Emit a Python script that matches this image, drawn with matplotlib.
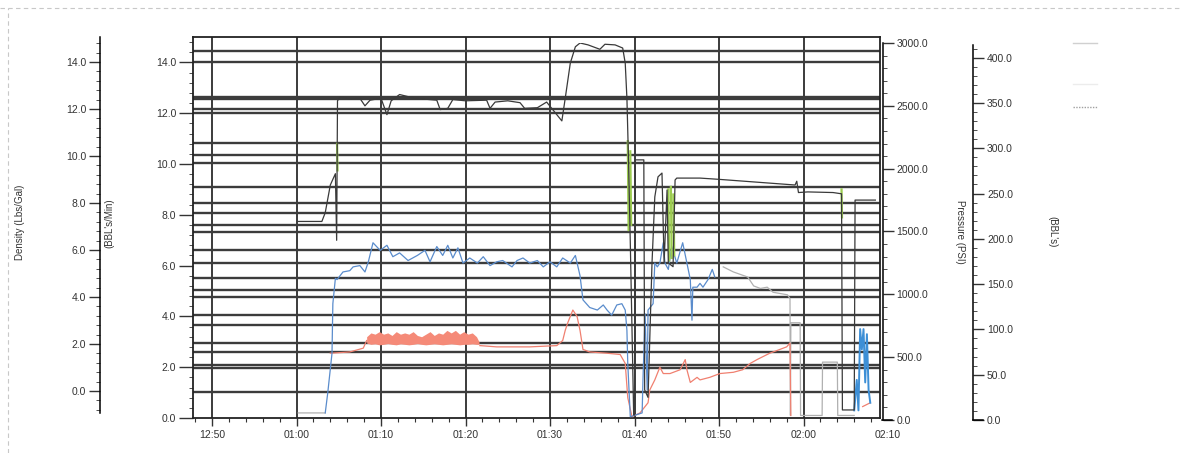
import numpy as np
import matplotlib.pyplot as plt
from matplotlib.lines import Line2D
from matplotlib.ticker import MultipleLocator, FormatStrFormatter
import matplotlib.transforms as mtransforms

plt.rcParams['font.family'] = ['Liberation Sans', 'DejaVu Sans']
plt.rcParams['font.size'] = 7.5
plt.rcParams['text.color'] = '#333333'
plt.rcParams['xtick.color'] = '#333333'
plt.rcParams['ytick.color'] = '#333333'

# time = minutes after 12:00 (12:50 -> 50, 01:00 -> 60 ... 02:10 -> 130)
tick_pos = [50, 60, 70, 80, 90, 100, 110, 120]
tick_labels = ['12:50', '01:00', '01:10', '01:20', '01:30', '01:40', '01:50', '02:00']
last_tick, last_label = 130, '02:10'

# dark horizontal streaks from the scan (in BBL's/Min units)
streak_y = [14.45, 14.02, 12.64, 12.56, 12.17, 12.0, 10.83, 10.35, 10.04, 9.09,
            8.46, 8.07, 7.60, 7.32, 6.61, 6.10, 5.51, 5.04, 4.76, 4.06,
            3.66, 2.95, 2.60, 2.09, 1.97, 1.02]

# treating pressure (PSI)
press_t = [60.2, 63.0, 63.4, 64.0, 64.6, 64.75, 64.85, 65.15, 66.5, 67.5, 68.1, 68.7,
           70.0, 70.7, 71.2, 72.2, 74.0, 76.6, 77.0, 77.9, 78.5, 80.0, 82.5, 82.9,
           83.5, 85.0, 86.45, 87.0, 88.5, 89.6, 91.4, 91.8, 92.4, 93.0, 93.55, 94.5,
           95.9, 96.5, 97.7, 98.6, 98.9, 99.1, 99.3, 99.5, 99.9, 100.0, 100.1, 101.1,
           101.2, 101.6, 102.07, 102.4, 102.78, 103.25, 103.5, 103.85, 104.0, 104.56,
           104.8, 105.0, 107.75, 110.0, 113.0, 116.0, 119.0, 119.2, 119.4, 120.5,
           123.5, 124.5, 124.6, 126.0, 126.1, 128.5]
press_v = [1580, 1580, 1650, 1870, 1960, 1430, 2540, 2570, 2555, 2560, 2500, 2545,
           2560, 2430, 2540, 2590, 2560, 2545, 2470, 2480, 2550, 2540, 2545, 2480,
           2530, 2540, 2525, 2480, 2485, 2530, 2380, 2560, 2840, 2970, 3000, 2985,
           2950, 2990, 2985, 2960, 2840, 2560, 2040, 1410, 40, 40, 2070, 2070,
           240, 180, 1250, 1775, 1935, 1965, 1250, 1830, 1250, 1220,
           1910, 1925, 1925, 1915, 1900, 1885, 1870, 1900, 1810, 1815,
           1810, 1800, 80, 80, 1750, 1750]

# rate (BBL's/Min)
rate_t = [63.4, 63.7, 64.2, 64.3, 64.6, 64.8, 65.5, 66.3, 66.7, 67.5, 68.1, 68.5,
          69.05, 69.9, 70.7, 71.4, 72.2, 73.2, 74.3, 75.2, 75.8, 76.6, 77.3, 77.9,
          78.5, 79.1, 79.7, 80.5, 81.4, 82.1, 82.9, 83.7, 84.4, 85.5, 86.1, 86.8,
          87.6, 88.5, 89.2, 90.0, 90.8, 91.5, 92.4, 93.0, 93.55, 93.9, 94.7, 95.6,
          96.3, 96.75, 97.3, 97.9, 98.5, 98.9, 99.1, 99.2, 99.5, 100.9, 101.0, 101.25,
          101.5, 101.6, 102.2, 102.4, 102.7, 103.0, 103.4, 103.6, 104.0, 104.4, 105.0,
          105.7, 106.2, 106.6, 106.8, 106.9, 107.4, 107.75, 108.1, 108.7, 109.2, 109.5]
rate_v = [0.2, 1.0, 2.55, 4.5, 5.5, 5.45, 5.75, 5.8, 5.95, 6.0, 5.75, 6.15,
          6.9, 6.6, 6.8, 6.35, 6.5, 6.2, 6.4, 6.6, 6.15, 6.75, 6.4, 6.8,
          6.3, 6.7, 6.1, 6.3, 6.1, 6.35, 6.0, 6.15, 6.2, 5.95, 6.2, 6.3,
          6.1, 6.2, 5.95, 6.15, 5.95, 6.3, 6.1, 6.4, 5.6, 4.65, 4.35, 4.25,
          4.45, 4.25, 4.05, 4.45, 4.5, 4.25, 3.45, 2.15, 0.05, 0.2, 1.5, 4.1,
          1.1, 4.25, 4.5, 6.1, 5.95, 6.1, 6.9, 6.1, 5.85, 6.75, 6.1,
          6.9, 6.1, 5.45, 3.85, 5.15, 5.15, 5.3, 5.15, 5.45, 5.85, 5.55]
rate2_t = [126.0, 126.3, 126.5, 126.7, 126.9, 127.1, 127.3, 127.5, 127.7, 127.9]
rate2_v = [0.3, 1.5, 0.3, 3.5, 2.7, 3.5, 1.4, 3.3, 1.1, 0.6]

# second rate / return (grey)
grey_t = [60.2, 63.4, np.nan, 110.5, 111.7, 113.4, 114.1, 114.9, 115.7, 116.4, 118.1,
          118.4, 118.45, 118.5, 119.6, 119.65, 122.2, 122.25, 124.0, 124.05, 126.0]
grey_v = [0.2, 0.2, np.nan, 5.95, 5.75, 5.55, 5.2, 5.1, 5.15, 4.95, 4.85,
          4.7, 0.1, 3.75, 3.75, 0.1, 0.1, 2.2, 2.2, 0.1, 0.1]

# density trace (red)
red_t = [64.0, 66.3, 67.9, 68.3, np.nan, 81.7, 83.7, 87.6, 90.8, 91.5, 91.8, 92.1,
         92.4, 92.7, 93.2, 93.55, 93.9, 94.7, 96.75, 98.3, 98.9, 99.2, 99.7, 100.65,
         101.6, 101.8, 102.4, 103.0, 103.4, 104.2, 105.4, 106.0, 106.2, 106.6, 107.4,
         107.75, 108.9, 110.1, 111.7, 112.8, 113.7, 114.5, 116.0, 117.2, 118.0, 118.4,
         118.5, np.nan, 127.0, 127.9]
red_v = [2.55, 2.6, 2.75, 3.05, np.nan, 2.85, 2.8, 2.8, 2.85, 3.05, 3.45, 3.75,
         4.0, 4.25, 4.0, 3.45, 2.7, 2.6, 2.55, 2.5, 2.15, 0.8, 0.05, 0.2,
         0.6, 1.1, 1.5, 2.0, 1.75, 1.75, 1.9, 2.3, 1.9, 1.4, 1.6,
         1.5, 1.6, 1.75, 1.8, 1.9, 2.15, 2.3, 2.55, 2.7, 2.8, 2.95,
         0.1, np.nan, 0.45, 0.6]
# dense noisy stretch of the red trace: lower / upper envelope
band_t = [68.3, 68.8, 69.3, 69.8, 70.3, 70.8, 71.3, 71.8, 72.3, 72.8, 73.3, 73.8,
          74.3, 74.8, 75.3, 75.8, 76.3, 76.8, 77.3, 77.8, 78.3, 78.8, 79.3, 79.8,
          80.3, 80.8, 81.3, 81.6]
band_lo = [2.95, 2.9, 2.92, 2.88, 2.9, 2.93, 2.9, 2.88, 2.92, 2.9, 2.88, 2.9,
           2.93, 2.9, 2.88, 2.9, 2.92, 2.9, 2.88, 2.9, 2.92, 2.9, 2.88, 2.9,
           2.9, 2.92, 2.9, 2.9]
band_hi = [3.2, 3.35, 3.3, 3.4, 3.3, 3.35, 3.25, 3.4, 3.3, 3.35, 3.3, 3.4,
           3.25, 3.2, 3.3, 3.4, 3.25, 3.35, 3.3, 3.45, 3.35, 3.45, 3.3, 3.4,
           3.3, 3.35, 3.2, 3.0]

# green spikes
green_t = [64.8, 64.85, np.nan, 99.2, 99.3, np.nan, 99.5, 99.6, np.nan,
           104.0, 104.1, np.nan, 104.3, 104.4, np.nan, 104.6, 104.7, np.nan, 124.5, 124.55]
green_v = [10.8, 9.75, np.nan, 10.9, 7.4, np.nan, 10.5, 7.6, np.nan,
           9.0, 6.2, np.nan, 9.1, 6.3, np.nan, 8.8, 6.4, np.nan, 9.0, 7.9]

W, H = 1180, 453
fig = plt.figure(figsize=(W / 100, H / 100), dpi=100)

def box(x0, y0, x1, y1):
    # pixel box (top-left origin) -> figure fraction rect
    return [x0 / W, 1 - y1 / H, (x1 - x0) / W, (y1 - y0) / H]

xlim = (47.75, 129.05)

ax = fig.add_axes(box(193, 37, 880, 418))
ax.set_xlim(*xlim)
ax.set_ylim(0, 15)
for s in ax.spines.values():
    s.set_color('#222222')
    s.set_linewidth(1.3)
ax.set_xticks(tick_pos)
ax.set_xticklabels(tick_labels)
ax.xaxis.set_minor_locator(MultipleLocator(2))
ax.yaxis.set_major_locator(MultipleLocator(2))
ax.yaxis.set_minor_locator(MultipleLocator(0.4))
ax.yaxis.set_major_formatter(FormatStrFormatter('%.1f'))
ax.tick_params(axis='x', which='major', length=6, width=1, pad=3)
ax.tick_params(axis='x', which='minor', length=3, width=0.8)
ax.tick_params(axis='y', which='major', length=10, width=1, pad=2)
ax.tick_params(axis='y', which='minor', length=3, width=0.6)
ax.grid(axis='x', which='major', color='#1a1a1a', lw=1.2)
ax.set_axisbelow(True)
# last label sits just past the frame
trans = mtransforms.blended_transform_factory(ax.transData, ax.transAxes)
ax.annotate(last_label, xy=(last_tick, 0), xycoords=trans, xytext=(0, -9),
            textcoords='offset points', ha='center', va='top', annotation_clip=False)

for yv in streak_y:
    ax.axhline(yv, color='#3c3c3c', lw=1.7, zorder=1)

ax.plot(grey_t, grey_v, color='#b0b0b0', lw=0.9, zorder=3)
ax.fill_between(band_t, band_lo, band_hi, color='#f58a78', lw=0, zorder=3)
ax.plot(red_t, red_v, color='#f08070', lw=0.9, zorder=3)
ax.plot(rate_t, rate_v, color='#5a8ccc', lw=0.9, zorder=3)
ax.plot(rate2_t, rate2_v, color='#3d8fd6', lw=1.4, zorder=3)
ax.plot(green_t, green_v, color='#9ccc50', lw=1.6, zorder=3)

# pressure axis (right)
axp = fig.add_axes(box(193, 43, 880, 420))
axp.patch.set_visible(False)
axp.set_xlim(*xlim)
axp.set_ylim(0, 3000)
for k in ['left', 'top', 'bottom']:
    axp.spines[k].set_visible(False)
axp.spines['right'].set_position(('outward', 2))
axp.spines['right'].set_linewidth(1.1)
axp.xaxis.set_visible(False)
axp.yaxis.tick_right()
axp.yaxis.set_major_locator(MultipleLocator(500))
axp.yaxis.set_minor_locator(MultipleLocator(100))
axp.yaxis.set_major_formatter(FormatStrFormatter('%.1f'))
axp.tick_params(axis='y', which='major', length=8, width=1, pad=2)
axp.tick_params(axis='y', which='minor', length=3, width=0.6)
axp.plot(press_t, press_v, color='#3a3a3a', lw=0.9, zorder=4)

# volume axis (far right)
axb = fig.add_axes(box(193, 45, 880, 420))
axb.patch.set_visible(False)
axb.set_xlim(*xlim)
axb.set_ylim(0, 414)
for k in ['left', 'top', 'bottom']:
    axb.spines[k].set_visible(False)
axb.spines['right'].set_position(('outward', 67))
axb.spines['right'].set_linewidth(1.1)
axb.xaxis.set_visible(False)
axb.yaxis.tick_right()
axb.yaxis.set_major_locator(MultipleLocator(50))
axb.yaxis.set_minor_locator(MultipleLocator(10))
axb.yaxis.set_major_formatter(FormatStrFormatter('%.1f'))
axb.tick_params(axis='y', which='major', length=8, width=1, pad=2)
axb.tick_params(axis='y', which='minor', length=3, width=0.6)

# density axis (far left)
axd = fig.add_axes(box(100, 37, 100.1, 413))
axd.patch.set_visible(False)
axd.set_ylim(-0.94, 15.06)
for k in ['right', 'top', 'bottom']:
    axd.spines[k].set_visible(False)
axd.spines['left'].set_linewidth(1.1)
axd.set_xticks([])
axd.yaxis.set_major_locator(MultipleLocator(2))
axd.yaxis.set_minor_locator(MultipleLocator(0.4))
axd.yaxis.set_major_formatter(FormatStrFormatter('%.1f'))
axd.tick_params(axis='y', which='major', length=8, width=1, pad=2)
axd.tick_params(axis='y', which='minor', length=3, width=0.6)

# axis titles
fig.text(20 / W, 1 - 222 / H, 'Density (Lbs/Gal)', rotation=90, ha='center', va='center', fontsize=7)
fig.text(109 / W, 1 - 223 / H, "(BBL's/Min)", rotation=90, ha='center', va='center', fontsize=7)
fig.text(960 / W, 1 - 232 / H, 'Pressure (PSI)', rotation=270, ha='center', va='center', fontsize=7)
fig.text(1052 / W, 1 - 232 / H, "(BBL's)", rotation=270, ha='center', va='center', fontsize=7)

# small corner stubs at the bottom of the right axes
for x0, x1 in [(882, 892), (973, 983)]:
    fig.add_artist(Line2D([x0 / W, x1 / W], [1 - 420 / H] * 2, color='black', lw=1.1))

# faint legend marks, top right
fig.add_artist(Line2D([1073 / W, 1097 / W], [1 - 43 / H] * 2, color='#d0d0d0', lw=1))
fig.add_artist(Line2D([1073 / W, 1097 / W], [1 - 84 / H] * 2, color='#ececec', lw=1))
fig.add_artist(Line2D([1073 / W, 1097 / W], [1 - 107 / H] * 2, color='#a0a0a0', lw=1, ls=(0, (1, 1))))

# scan border
fig.add_artist(Line2D([0, 1], [1 - 8 / H] * 2, color='#c8c8c8', lw=0.8, ls=(0, (4, 3))))
fig.add_artist(Line2D([8 / W] * 2, [0, 1 - 8 / H], color='#c8c8c8', lw=0.8, ls=(0, (4, 3))))

fig.savefig('out.png', dpi=100)
